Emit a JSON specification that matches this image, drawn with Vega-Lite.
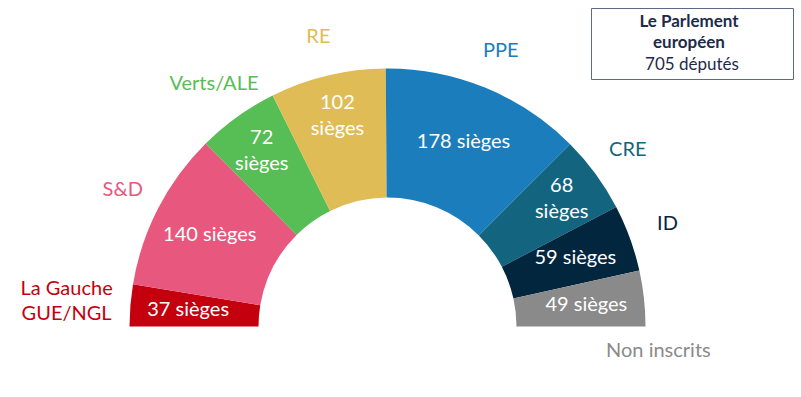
{
  "$schema": "https://vega.github.io/schema/vega-lite/v6.json",
  "autosize": {"type": "none"},
  "width": 775,
  "height": 653,
  "padding": {"left": 0, "top": 0, "right": 26, "bottom": -256},
  "background": "white",
  "config": {"view": {"stroke": null}, "font": "Lato"},
  "data": {
    "values": [
      {"party": "La Gauche", "name": "La Gauche\nGUE/NGL", "seats": 37, "label": "37 sièges", "rank": 1},
      {"party": "S&D", "name": "S&D", "seats": 140, "label": "140 sièges", "rank": 2},
      {"party": "Verts/ALE", "name": "Verts/ALE", "seats": 72, "label": "72\nsièges", "rank": 3},
      {"party": "RE", "name": "RE", "seats": 102, "label": "102\nsièges", "rank": 4},
      {"party": "PPE", "name": "PPE", "seats": 178, "label": "178 sièges", "rank": 5},
      {"party": "CRE", "name": "CRE", "seats": 68, "label": "68\nsièges", "rank": 6},
      {"party": "ID", "name": "ID", "seats": 59, "label": "59 sièges", "rank": 7},
      {"party": "NI", "name": "Non inscrits", "seats": 49, "label": "49 sièges", "rank": 8}
    ]
  },
  "encoding": {
    "theta": {"field": "seats", "type": "quantitative", "stack": true, "scale": {"range": [-1.5708, 1.5708]}},
    "order": {"field": "rank", "type": "quantitative"},
    "color": {
      "field": "party",
      "type": "nominal",
      "scale": {
        "domain": ["La Gauche", "S&D", "Verts/ALE", "RE", "PPE", "CRE", "ID", "NI"],
        "range": ["#c4000e", "#e8577d", "#57bd55", "#dfbc56", "#1b7dbb", "#13657f", "#03263f", "#8a8a8a"]
      },
      "legend": null
    }
  },
  "layer": [
    {"mark": {"type": "arc", "radius": 258, "radius2": 129}},
    {
      "mark": {
        "type": "text",
        "radius": {"expr": "indexof(datum.label, '\\n') >= 0 ? 216 : 200"},
        "dy": {"expr": "indexof(datum.label, '\\n') >= 0 ? -13 : 0"},
        "fontSize": 20,
        "font": "Lato",
        "lineBreak": "\n",
        "lineHeight": 26,
        "baseline": "middle",
        "align": "center"
      },
      "encoding": {"text": {"field": "label"}, "color": {"value": "white"}}
    },
    {
      "mark": {
        "type": "text",
        "radius": {"expr": "datum.rank == 1 ? 322 : datum.rank == 8 ? 272 : 298"},
        "thetaOffset": {"expr": "datum.rank == 8 ? 0.2 : 0"},
        "dy": {"expr": "indexof(datum.name, '\\n') >= 0 ? -11 : 0"},
        "fontSize": 20,
        "font": "Lato",
        "lineBreak": "\n",
        "lineHeight": 25,
        "baseline": "middle",
        "align": "center"
      },
      "encoding": {"text": {"field": "name"}}
    },
    {
      "data": {"values": [{"total": 705}]},
      "mark": {"type": "point", "opacity": 0},
      "encoding": {
        "theta": null,
        "order": null,
        "color": null,
        "fill": {
          "field": "total",
          "type": "quantitative",
          "scale": {"domain": [0, 1410], "range": ["white", "white"]},
          "legend": {
            "type": "gradient",
            "direction": "horizontal",
            "orient": "none",
            "legendX": 591,
            "legendY": 8,
            "gradientLength": 190,
            "gradientThickness": 1,
            "gradientStrokeWidth": 0,
            "values": [705],
            "labelExpr": "datum.label + ' députés'",
            "title": ["Le Parlement", "européen"],
            "titleFont": "Lato",
            "titleFontSize": 17,
            "titleFontWeight": "bold",
            "titleColor": "#1d2b4a",
            "titleAnchor": "middle",
            "titleAlign": "center",
            "titleLineHeight": 21,
            "titlePadding": 1,
            "labelFont": "Lato",
            "labelFontSize": 17,
            "labelColor": "#1d2b4a",
            "labelOffset": 3,
            "labelLimit": 500,
            "strokeColor": "#5b6a86",
            "padding": 6
          }
        }
      }
    }
  ]
}
